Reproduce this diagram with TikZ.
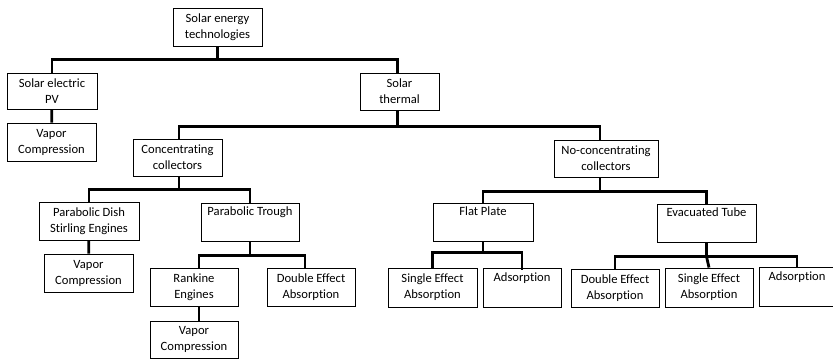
\documentclass[tikz,border=0pt]{standalone}
\usepackage{fontspec}
\setmainfont{Carlito}[Ligatures=NoCommon]
\tikzset{
  box/.style={draw,line width=0.9pt,align=center,inner sep=1pt,
    minimum height=38pt,font=\fontsize{12.6}{16}\selectfont},
  link/.style={line width=2.8pt}
}
\begin{document}
\begin{tikzpicture}[x=1pt,y=-1pt,line join=miter]
  \useasboundingbox (0,0) rectangle (833,359);
  % top levels
  \node[box,minimum width=89pt] (root) at (217.5,27) {Solar energy\\technologies};
  \node[box,minimum width=90pt,minimum height=36pt] (pv) at (52,91) {Solar electric\\PV};
  \node[box,minimum width=89pt] (pvvc) at (51.5,142) {Vapor\\Compression};
  \node[box,minimum width=79pt,minimum height=37pt] (thermal) at (399.5,91.5) {Solar\\thermal};
  \node[box,minimum width=89pt,minimum height=37pt] (conc) at (177.5,157.5) {Concentrating\\collectors};
  \node[box,minimum width=104pt,minimum height=37pt] (nonconc) at (606,158.5) {No-concentrating\\collectors};
  % concentrating branch
  \node[box,minimum width=100pt] (dish) at (89,221) {Parabolic Dish\\Stirling Engines};
  \node[box,minimum width=89pt] (dishvc) at (88.5,273) {Vapor\\Compression};
  \node[box,minimum width=98pt] (trough) at (250,222) {Parabolic Trough\\\strut};
  \node[box,minimum width=88pt] (rankine) at (194,287) {Rankine\\Engines};
  \node[box,minimum width=88pt] (trdouble) at (311,287) {Double Effect\\Absorption};
  \node[box,minimum width=88pt,minimum height=37pt] (rankvc) at (194,339.5) {Vapor\\Compression};
  % non-concentrating branch
  \node[box,minimum width=100pt] (flat) at (483,222) {Flat Plate\\\strut};
  \node[box,minimum width=99pt] (evac) at (706.5,223) {Evacuated Tube\\\strut};
  \node[box,minimum width=89pt,minimum height=39pt] (flsingle) at (432.5,287.5) {Single Effect\\Absorption};
  \node[box,minimum width=78pt,minimum height=39pt] (fladsorp) at (522,287.5) {Adsorption\\\strut};
  \node[box,minimum width=88pt] (evdouble) at (615,288) {Double Effect\\Absorption};
  \node[box,minimum width=88pt,minimum height=39pt] (evsingle) at (709,287.5) {Single Effect\\Absorption};
  \node[box,minimum width=76pt,minimum height=39pt] (evadsorp) at (797,286.5) {Adsorption\\\strut};
  % connectors
  \draw[link] (root.south) -- ++(0,13) coordinate (b1);
  \draw[link] (pv.north) |- (b1) -| ([xshift=-2pt]thermal.north);
  \draw[link] (pv) -- (pvvc);
  \draw[link] ([xshift=-2pt]thermal.south) -- ++(0,16) coordinate (b2);
  \draw[link] ([xshift=1.5pt]conc.north) |- (b2) -| ([xshift=-6pt]nonconc.north);
  \draw[link] ([xshift=1.5pt]conc.south) -- ++(0,13) coordinate (b3);
  \draw[link] (dish.north) |- (b3) -| (trough.north);
  \draw[link] (dish) -- (dishvc);
  \draw[link] (trough.south) -- ++(0,14) coordinate (b4);
  \draw[link] ([xshift=5pt]rankine.north) |- (b4) -| ([xshift=-6pt]trdouble.north);
  \draw[link] ([xshift=5pt]rankine.south) -- ([xshift=5pt]rankvc.north);
  \draw[link] ([xshift=-6pt]nonconc.south) -- ++(0,14) coordinate (b5);
  \draw[link] (flat.north) |- (b5) -| (evac.north);
  \draw[link] (flat.south) -- ++(0,11) coordinate (b6);
  \draw[link] (flsingle.north) |- (b6) -| ([yshift=-2pt]fladsorp.north);
  \draw[link] (evac.south) -- ++(0,14) coordinate (b7);
  \draw[link] (evdouble.north) |- (b7) -| (evadsorp.north);
  \draw[link] (b7) -- (evsingle.north);
\end{tikzpicture}
\end{document}
